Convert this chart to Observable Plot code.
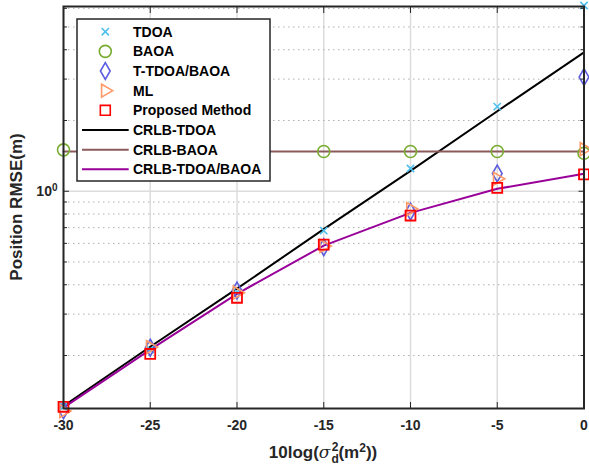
<!DOCTYPE html>
<html><head><meta charset="utf-8">
<script src="https://cdn.jsdelivr.net/npm/d3@7"></script>
<script src="https://cdn.jsdelivr.net/npm/@observablehq/plot@0.6"></script>
<style>body{margin:0;background:#fff} #chart svg{display:block}</style>
</head><body><div id="chart"></div>
<script>
// noise power in dB: 10log(sigma_d^2)
const noiseDb = [-30, -25, -20, -15, -10, -5, 0];
const tdoa      = [0.121, 0.212, 0.372, 0.68, 1.25, 2.29, 6.17];
const baoa      = [1.50, 1.476, 1.476, 1.476, 1.476, 1.476, 1.45];
const tTdoaBaoa = [0.117, 0.216, 0.378, 0.578, 0.82, 1.19, 3.06];
const ml        = [0.116, 0.217, 0.37, 0.585, 0.84, 1.13, 1.51];
const proposed  = [0.121, 0.203, 0.352, 0.593, 0.788, 1.034, 1.18];
const crlbTdoa  = [0.122, 0.218, 0.385, 0.69, 1.22, 2.19, 3.9];
const crlbBaoa  = [1.476, 1.476, 1.476, 1.476, 1.476, 1.476, 1.476];
const crlbJoint = [0.12, 0.212, 0.366, 0.587, 0.809, 1.024, 1.186];

const xTicks = [-30, -25, -20, -15, -10, -5, 0];
const yMinorTicks = [0.2, 0.3, 0.4, 0.5, 0.6, 0.7, 0.8, 0.9, 2, 3, 4, 5, 6];
const yMajorTicks = [1];

const names = ["TDOA", "BAOA", "T-TDOA/BAOA", "ML", "Proposed Method", "CRLB-TDOA", "CRLB-BAOA", "CRLB-TDOA/BAOA"];

const rows = v => noiseDb.map((x, i) => ({x, y: v[i]}));

const C = {tdoa:"#4DBEEE", baoa:"#77AC30", tt:"#5C5CE0", ml:"#FF9966", prop:"#FF0000",
           lT:"#000000", lB:"#8C5A5A", lJ:"#990099"};
const axisColor = "#262626";
const font = "'Liberation Sans', Arial, Helvetica, sans-serif";

const plot = Plot.plot({
  width: 589, height: 470,
  marginLeft: 63, marginRight: 5.5, marginTop: 6, marginBottom: 62,
  style: {fontFamily: font, fontWeight: "bold", fontSize: "14px", color: axisColor, background: "#fff"},
  x: {domain: [-30, 0]},
  y: {type: "log", domain: [0.119, 6.11]},
  marks: [
    Plot.gridX(xTicks, {stroke: "#dcdcdc", strokeOpacity: 1, strokeWidth: 1.5}),
    Plot.gridY(yMinorTicks, {stroke: "#b0b0b0", strokeOpacity: 1, strokeDasharray: "1.5,3.5"}),
    Plot.gridY(yMajorTicks, {stroke: "#dcdcdc", strokeOpacity: 1, strokeWidth: 1.5}),
    Plot.line(rows(crlbTdoa), {x: "x", y: "y", stroke: C.lT, strokeWidth: 2}),
    Plot.line(rows(crlbBaoa), {x: "x", y: "y", stroke: C.lB, strokeWidth: 2}),
    Plot.line(rows(crlbJoint), {x: "x", y: "y", stroke: C.lJ, strokeWidth: 2}),
    Plot.dot(rows(tdoa), {x: "x", y: "y", symbol: "times", r: 3.4, stroke: C.tdoa, strokeWidth: 1.6}),
    Plot.dot(rows(baoa), {x: "x", y: "y", symbol: "circle", r: 6, stroke: C.baoa, strokeWidth: 1.6}),
    Plot.dot(rows(tTdoaBaoa), {x: "x", y: "y", symbol: "diamond", r: 5.1, stroke: C.tt, strokeWidth: 1.6}),
    Plot.dot(rows(ml), {x: "x", y: "y", symbol: "triangle", rotate: 90, r: 4.8, stroke: C.ml, strokeWidth: 1.6}),
    Plot.dot(rows(proposed), {x: "x", y: "y", symbol: "square", r: 5.6, stroke: C.prop, strokeWidth: 1.8}),
    Plot.frame({stroke: axisColor, strokeWidth: 2}),
    // inward ticks
    Plot.axisX({anchor: "bottom", ticks: xTicks, tickSize: -6, tickFormat: () => "", label: null, stroke: axisColor}),
    Plot.axisX({anchor: "top", ticks: xTicks, tickSize: -6, tickFormat: () => "", label: null, stroke: axisColor}),
    Plot.axisY({anchor: "left", ticks: yMinorTicks, tickSize: -4, tickFormat: () => "", label: null, stroke: axisColor}),
    Plot.axisY({anchor: "right", ticks: yMinorTicks, tickSize: -4, tickFormat: () => "", label: null, stroke: axisColor}),
    Plot.axisY({anchor: "left", ticks: yMajorTicks, tickSize: -6, tickFormat: () => "", label: null, stroke: axisColor}),
    Plot.axisY({anchor: "right", ticks: yMajorTicks, tickSize: -6, tickFormat: () => "", label: null, stroke: axisColor}),
    // labels
    Plot.axisX({anchor: "bottom", ticks: xTicks, tickSize: 0, tickPadding: 12, tickFormat: d => String(d), label: null, fill: axisColor}),
    Plot.axisY({anchor: "left", ticks: yMajorTicks, tickSize: 0, tickPadding: 6, tickFormat: () => "10", label: null, fill: axisColor})
  ]
});

document.getElementById("chart").appendChild(plot);
const svg = d3.select(plot);

// superscript on y tick label
svg.selectAll("text").filter(function(){ return this.textContent === "10"; })
  .each(function(){
    d3.select(this).append("tspan").attr("dy", "-0.45em").attr("font-size", "10px").text("0");
  });

// y axis label
svg.append("text")
  .attr("transform", "translate(22,207) rotate(-90)")
  .attr("text-anchor", "middle")
  .attr("font-family", font).attr("font-weight", "bold").attr("font-size", "17px")
  .attr("fill", axisColor)
  .text("Position RMSE(m)");

// x axis label: 10log(σ_d^2(m^2))
const xl = svg.append("text")
  .attr("x", 323).attr("y", 458)
  .attr("text-anchor", "middle")
  .attr("font-family", font).attr("font-weight", "bold").attr("font-size", "17px")
  .attr("fill", axisColor);
xl.append("tspan").text("10log(");
xl.append("tspan").attr("font-style", "italic").attr("font-weight", "normal").attr("font-family", "'DejaVu Serif', serif").text("σ");
xl.append("tspan").attr("font-size", "12px").attr("dx", 1).attr("dy", 5).text("d");
xl.append("tspan").attr("font-size", "12px").attr("dx", -7).attr("dy", -12).text("2");
xl.append("tspan").attr("dy", 7).text("(m");
xl.append("tspan").attr("font-size", "12px").attr("dy", -6).text("2");
xl.append("tspan").attr("dy", 6).text("))");

// legend
const lg = svg.append("g").attr("class", "legend-box");
lg.append("rect").attr("x", 77).attr("y", 19).attr("width", 193).attr("height", 162)
  .style("fill", "#ffffff").style("fill-opacity", 1).style("stroke", axisColor).style("stroke-width", "1.5px");
const legendItems = [
  {type: "sym", sym: d3.symbolTimes, r: 3.4, color: C.tdoa},
  {type: "sym", sym: d3.symbolCircle, r: 6, color: C.baoa},
  {type: "sym", sym: d3.symbolDiamond, r: 5.1, color: C.tt},
  {type: "sym", sym: d3.symbolTriangle, r: 4.8, color: C.ml, rot: 90},
  {type: "sym", sym: d3.symbolSquare, r: 5.6, color: C.prop},
  {type: "line", color: C.lT},
  {type: "line", color: C.lB},
  {type: "line", color: C.lJ}
];
legendItems.forEach((it, i) => {
  const cy = 31.7 + i * 19.66;
  if (it.type === "sym") {
    lg.append("path")
      .attr("d", d3.symbol(it.sym, Math.PI * it.r * it.r)())
      .attr("transform", `translate(105.3,${cy})` + (it.rot ? ` rotate(${it.rot})` : ""))
      .style("fill", "none").style("stroke", it.color).style("stroke-width", "1.6px");
  } else {
    lg.append("line").attr("x1", 82).attr("x2", 128.7).attr("y1", cy).attr("y2", cy)
      .style("stroke", it.color).style("stroke-width", "2px");
  }
  lg.append("text").attr("x", 133).attr("y", cy).attr("dy", "0.36em")
    .attr("text-anchor", "start")
    .attr("font-family", font).attr("font-weight", "bold").attr("font-size", "14px")
    .style("fill", "#000").text(names[i]);
});
</script>
</body></html>
